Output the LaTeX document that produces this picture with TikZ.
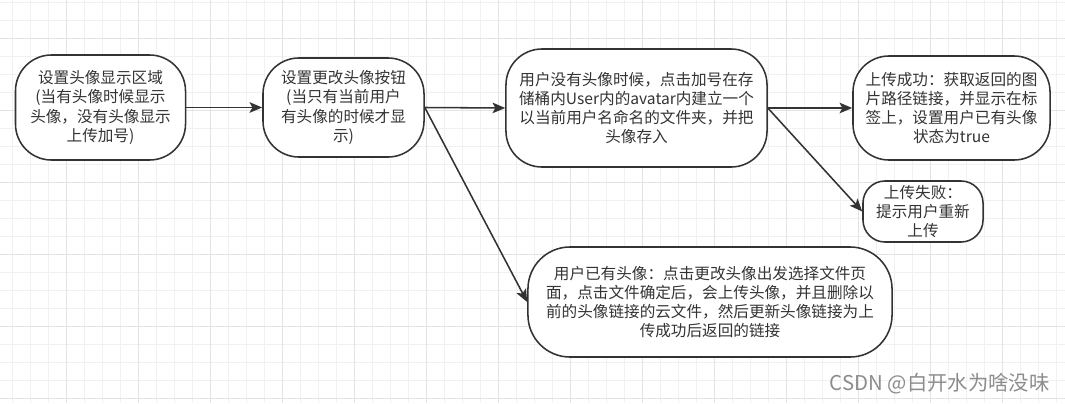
\documentclass[tikz,border=0pt]{standalone}
\usepackage{fontspec}
\setmainfont{Noto Sans CJK SC}
\usetikzlibrary{arrows.meta}

\definecolor{ink}{HTML}{333333}
\definecolor{gridminor}{HTML}{F1F1F1}
\definecolor{gridmajor}{HTML}{E3E3E3}
\definecolor{wmark}{HTML}{8C8C8C}

\tikzset{
  stepbox/.style={draw=ink, fill=white, line width=1.1pt, rounded corners=0.9cm,
    align=center, text=ink, inner sep=2pt, font=\fontsize{11.1}{13.7}\selectfont},
  flow/.style={draw=ink, line width=1.1pt, -{Stealth[length=9pt,width=7.5pt,inset=2pt]}},
}

\begin{document}
\begin{tikzpicture}[x=0.025cm,y=-0.025cm]
        \useasboundingbox (0,0) rectangle (1065,403);

        % mřížka
        \foreach \gx in {0,...,58} \draw[gridminor, line width=0.6pt] ({12.7+18*\gx},0) -- ({12.7+18*\gx},403);
        \foreach \gy in {0,...,22} \draw[gridminor, line width=0.6pt] (0,{2.7+18*\gy}) -- (1065,{2.7+18*\gy});
        \foreach \gx in {0,...,13} \draw[gridmajor, line width=0.6pt] ({66.7+72*\gx},0) -- ({66.7+72*\gx},403);
        \foreach \gy in {0,...,5} \draw[gridmajor, line width=0.6pt] (0,{38.7+72*\gy}) -- (1065,{38.7+72*\gy});

        % kroky
        \node[stepbox, minimum width=4.25cm, minimum height=2.625cm] (show) at (100.5,107.5)
            {设置头像显示区域\\(当有头像时候显示\\头像，没有头像显示\\上传加号)};
        \node[stepbox, minimum width=4.025cm, minimum height=2.475cm] (button) at (343.5,107.5)
            {设置更改头像按钮\\(当只有当前用户\\有头像的时候才显\\示)};
        \node[stepbox, minimum width=6.525cm, minimum height=2.95cm] (noavatar) at (636.5,108)
            {用户没有头像时候，点击加号在存\\储桶内User内的avatar内建立一个\\以当前用户名命名的文件夹，并把\\头像存入};
        \node[stepbox, minimum width=4.925cm, minimum height=2.6cm] (ok) at (951.5,108)
            {上传成功：获取返回的图\\片路径链接，并显示在标\\签上，设置用户已有头像\\状态为true};
        \node[stepbox, rounded corners=0.55cm, minimum width=3cm, minimum height=1.525cm] (fail) at (923,211.5)
            {上传失败：\\提示用户重新\\上传};
        \node[stepbox, rounded corners=1.05cm, minimum width=9.1cm, minimum height=2.75cm] (hasavatar) at (710,302)
            {用户已有头像：点击更改头像出发选择文件页\\面，点击文件确定后，会上传头像，并且删除以\\前的头像链接的云文件，然后更新头像链接为上\\传成功后返回的链接};

        % šipky
        \draw[flow] (show.east) -- (button.west);
        \draw[flow] (button.east) -- (noavatar.west);
        \draw[flow] (button.east) -- (hasavatar.west);
        \draw[flow] (noavatar.east) -- (ok.west);
        \draw[flow] (noavatar.east) -- (fail.west);

        \node[anchor=east, text=wmark, inner sep=0pt, font=\fontsize{14.5}{16}\selectfont] (credit) at (1050,384)
            {CSDN @白开水为啥没味};
    \end{tikzpicture}
\end{document}
